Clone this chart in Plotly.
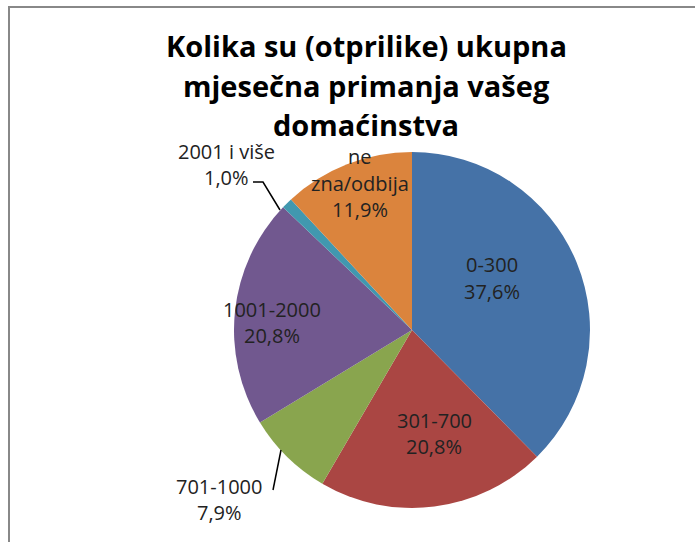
import plotly.graph_objects as go

title_lines = ["Kolika su (otprilike) ukupna", "mjesečna primanja vašeg", "domaćinstva"]
categories = ["0-300", "301-700", "701-1000", "1001-2000", "2001 i više", "ne zna/odbija"]
label_lines = [["0-300"], ["301-700"], ["701-1000"], ["1001-2000"], ["2001 i više"], ["ne", "zna/odbija"]]
values = [37.6, 20.8, 7.9, 20.8, 1.0, 11.9]
colors = ["#4572A7", "#AA4643", "#89A54E", "#71588F", "#4198AF", "#DB843D"]

W, H = 695, 542
cx, cy, r = 412, 330, 178

def px(x):
    return x / W

def py(y):
    return 1 - y / H

fig = go.Figure()
fig.add_trace(go.Pie(
    labels=categories, values=values, sort=False, direction="clockwise", rotation=0,
    marker=dict(colors=colors, line=dict(width=0)),
    textinfo="none", hoverinfo="label+percent", showlegend=False,
    domain=dict(x=[px(cx - r), px(cx + r)], y=[py(cy + r), py(cy - r)]),
))

# label block centres (pixels): x centre, y of first line
label_pos = [(492, 265), (434, 420), (219, 486), (272, 309), (226, 151), (360, 157)]
LS = 26
annotations = []
for i, (lines, val) in enumerate(zip(label_lines, values)):
    x0, y0 = label_pos[i]
    all_lines = lines + [f"{val:.1f}%".replace(".", ",")]
    for j, t in enumerate(all_lines):
        annotations.append(dict(x=px(x0), y=py(y0 + j * LS), xref="paper", yref="paper",
                                text=t, showarrow=False, xanchor="center", yanchor="middle",
                                font=dict(family="Open Sans", size=20, color="#222222")))

title_y = [46, 86, 124]
for t, y in zip(title_lines, title_y):
    annotations.append(dict(x=px(366), y=py(y), xref="paper", yref="paper", text=f"<b>{t}</b>",
                            showarrow=False, xanchor="center", yanchor="middle",
                            font=dict(family="Open Sans", size=29, color="#000000")))

shapes = [
    dict(type="rect", xref="paper", yref="paper", x0=px(9), x1=px(720), y0=py(570), y1=py(7),
         line=dict(color="#888888", width=2)),
    dict(type="path", xref="paper", yref="paper",
         path=f"M {px(253)},{py(182)} L {px(263)},{py(182)} L {px(280)},{py(210)}",
         line=dict(color="#000000", width=1.5)),
    dict(type="line", xref="paper", yref="paper", x0=px(273), y0=py(490), x1=px(281), y1=py(450),
         line=dict(color="#000000", width=1.5)),
]

fig.update_layout(width=W, height=H, margin=dict(l=0, r=0, t=0, b=0),
                  paper_bgcolor="white", plot_bgcolor="white",
                  annotations=annotations, shapes=shapes)
fig.write_html("out.html", config={"displayModeBar": False},
               post_script="document.body.style.margin='0';document.body.style.overflow='hidden';")
